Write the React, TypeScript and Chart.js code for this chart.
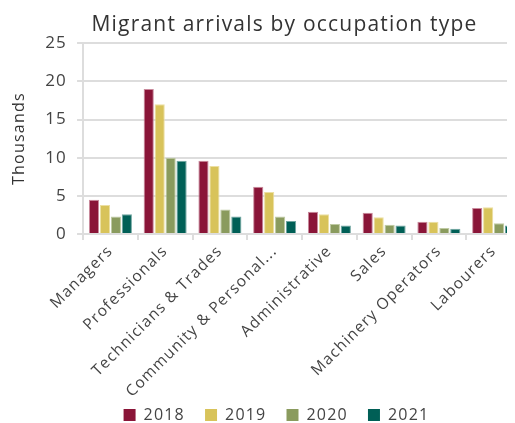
import React, { useEffect, useRef } from "react";
import { Chart, registerables } from "chart.js";

Chart.register(...registerables);

const categories = [
  "Managers",
  "Professionals",
  "Technicians & Trades",
  "Community & Personal Service Workers",
  "Administrative",
  "Sales",
  "Machinery Operators",
  "Labourers",
];
const years = ["2018", "2019", "2020", "2021"];
const values2018 = [4.5, 19.0, 9.6, 6.2, 2.9, 2.8, 1.6, 3.4];
const values2019 = [3.8, 17.0, 8.9, 5.5, 2.6, 2.2, 1.6, 3.5];
const values2020 = [2.3, 10.0, 3.2, 2.3, 1.3, 1.2, 0.8, 1.4];
const values2021 = [2.6, 9.6, 2.3, 1.7, 1.1, 1.1, 0.7, 1.1];
const yTicks = [0, 5, 10, 15, 20, 25];

const colors = ["#8a1538", "#d8c35a", "#8a9b5e", "#005f56"];
const borders = ["#c98a9c", "#ecdfa2", "#bfcaa3", "#6fa5a0"];

const FONT = "'Open Sans', sans-serif";
const SPACING = "1.2px";

const spacingPlugin = {
  id: "spacing",
  beforeUpdate(chart: any) {
    chart.ctx.letterSpacing = SPACING;
  },
  beforeLayout(chart: any) {
    chart.ctx.letterSpacing = SPACING;
  },
  beforeDraw(chart: any) {
    chart.ctx.letterSpacing = SPACING;
  },
};

export default function App() {
  const ref = useRef<HTMLCanvasElement>(null);
  useEffect(() => {
    if (!ref.current) return;
    const series = [values2018, values2019, values2020, values2021];
    const defaultLabels = (Chart as any).defaults.plugins.legend.labels.generateLabels;
    const chart = new Chart(ref.current, {
      type: "bar",
      plugins: [spacingPlugin],
      data: {
        labels: categories,
        datasets: years.map((y, i) => ({
          label: y,
          data: series[i],
          backgroundColor: colors[i],
          borderColor: borders[i],
          borderWidth: 1,
          barPercentage: 0.93,
          categoryPercentage: 0.8,
        })),
      },
      options: {
        animation: false,
        responsive: true,
        maintainAspectRatio: false,
        layout: { padding: { right: 0, left: 2, top: 0, bottom: 0 } },
        plugins: {
          title: {
            display: true,
            text: "Migrant arrivals by occupation type",
            color: "#333",
            font: { family: FONT, size: 21, weight: "normal" },
            padding: { top: 4, bottom: 6 },
          },
          legend: {
            position: "bottom",
            labels: {
              color: "#444",
              font: { family: FONT, size: 16 },
              boxWidth: 12,
              boxHeight: 12,
              padding: 4,
              generateLabels: (c: any) =>
                defaultLabels(c).map((l: any) => ({
                  ...l,
                  text: l.text + "   ",
                  lineWidth: 0,
                })),
            },
          },
          tooltip: { enabled: false },
        },
        scales: {
          x: {
            grid: {
              display: true,
              drawOnChartArea: false,
              drawTicks: true,
              offset: true,
              tickLength: 6,
              color: "#dddddd",
              lineWidth: 2,
            },
            border: { color: "#dddddd", width: 2 },
            ticks: {
              color: "#444",
              font: { family: FONT, size: 15.5 },
              maxRotation: 45,
              minRotation: 45,
              autoSkip: false,
              padding: 2,
              callback: function (this: any, v: any) {
                const s = categories[v as number];
                return s.length > 22 ? s.slice(0, 20) + "..." : s;
              },
            },
          },
          y: {
            min: 0,
            max: 25,
            afterBuildTicks: (axis: any) => {
              axis.ticks = yTicks.map((v) => ({ value: v }));
            },
            grid: { color: "#dddddd", lineWidth: 2, tickLength: 6 },
            border: { color: "#dddddd", width: 2 },
            ticks: {
              color: "#444",
              font: { family: FONT, size: 17 },
              padding: 10,
            },
            title: {
              display: true,
              text: "Thousands",
              color: "#333",
              font: { family: FONT, size: 16 },
              padding: { top: 0, bottom: 6 },
            },
          },
          yRight: {
            position: "right",
            display: true,
            grid: { display: false, drawTicks: false },
            border: { display: false },
            ticks: { display: false },
            afterFit: (s: any) => {
              s.width = 38;
            },
          },
        },
      },
    });
    return () => chart.destroy();
  }, []);
  return (
    <div style={{ width: 507, height: 415, overflow: "hidden" }}>
      <div style={{ width: 551, height: 425, position: "relative" }}>
        <canvas ref={ref} />
      </div>
    </div>
  );
}
